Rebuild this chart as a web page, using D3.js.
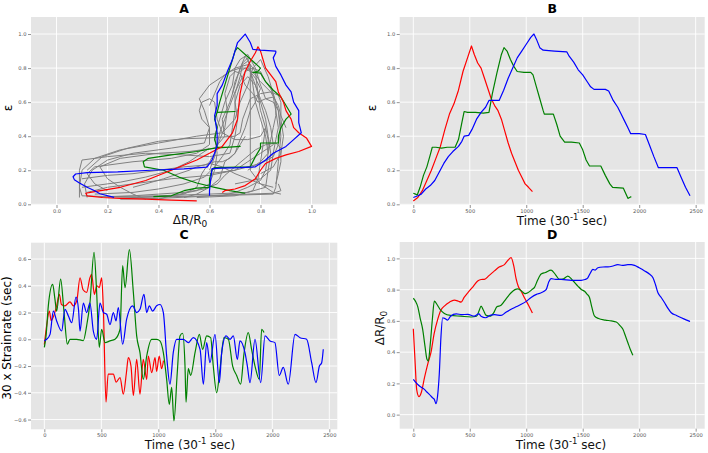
<!DOCTYPE html>
<html><head><meta charset="utf-8">
<script src="https://cdn.jsdelivr.net/npm/d3@7"></script>
<style>body{margin:0;background:#fff;} text{font-family:"DejaVu Sans",sans-serif;}</style>
</head><body><svg id="c" width="708" height="453"></svg>
<script>
// ---------- tick values ----------
const ratioTicks = [0, 0.2, 0.4, 0.6, 0.8, 1.0];
const timeTicks = [0, 500, 1000, 1500, 2000, 2500];
const rateTicks = [-0.6, -0.4, -0.2, 0, 0.2, 0.4, 0.6];

// ---------- Panel B : strain vs time ----------
const bRed = [[0,0.02],[40,0.04],[80,0.08],[120,0.14],[160,0.2],[200,0.27],[240,0.34],[280,0.44],[320,0.53],[360,0.59],[400,0.67],[440,0.78],[480,0.86],[515,0.93],[540,0.88],[570,0.83],[600,0.8],[630,0.74],[660,0.68],[690,0.62],[720,0.58],[750,0.55],[780,0.5],[810,0.43],[840,0.36],[870,0.3],[900,0.25],[930,0.2],[960,0.16],[990,0.12],[1020,0.1],[1055,0.075]];
const bGreen = [[0,0.065],[20,0.06],[35,0.055],[60,0.1],[90,0.17],[120,0.22],[150,0.29],[168,0.335],[200,0.335],[250,0.33],[300,0.335],[370,0.335],[400,0.38],[430,0.48],[450,0.545],[480,0.54],[550,0.54],[620,0.535],[670,0.54],[700,0.65],[740,0.77],[780,0.88],[803,0.92],[830,0.9],[860,0.85],[890,0.81],[920,0.78],[980,0.775],[1040,0.775],[1060,0.76],[1090,0.69],[1120,0.62],[1150,0.55],[1160,0.53],[1240,0.53],[1270,0.47],[1300,0.4],[1340,0.365],[1400,0.365],[1470,0.36],[1500,0.32],[1530,0.26],[1560,0.225],[1660,0.225],[1700,0.17],[1740,0.12],[1765,0.1],[1860,0.095],[1890,0.05],[1900,0.035],[1915,0.04],[1930,0.045]];
const bBlue = [[0,0.04],[40,0.05],[70,0.06],[110,0.09],[150,0.11],[190,0.14],[230,0.19],[270,0.24],[310,0.28],[350,0.31],[400,0.34],[430,0.37],[450,0.4],[490,0.405],[520,0.44],[560,0.5],[600,0.54],[640,0.57],[670,0.61],[760,0.61],[800,0.67],[840,0.74],[880,0.8],[920,0.86],[960,0.9],[1000,0.94],[1040,0.98],[1068,1.0],[1090,0.97],[1120,0.92],[1150,0.905],[1250,0.9],[1360,0.895],[1380,0.87],[1420,0.835],[1460,0.79],[1500,0.76],[1540,0.72],[1570,0.69],[1600,0.675],[1700,0.675],[1730,0.665],[1770,0.61],[1810,0.57],[1840,0.53],[1870,0.49],[1900,0.45],[1925,0.415],[2000,0.415],[2055,0.41],[2090,0.35],[2130,0.28],[2170,0.215],[2250,0.215],[2335,0.215],[2370,0.16],[2410,0.1],[2450,0.05]];

// ---------- Panel C : strain rate vs time ----------
const cRed = [[0,-0.04],[20,0.1],[44,0.21],[60,0.14],[80,0.17],[108,0.25],[132,0.336],[150,0.26],[180,0.25],[225,0.28],[255,0.25],[285,0.29],[313,0.46],[340,0.37],[371,0.35],[400,0.46],[415,0.485],[439,0.336],[460,0.4],[482,0.386],[503,0.46],[518,0.22],[541,-0.47],[560,-0.26],[605,-0.26],[630,-0.32],[664,-0.286],[693,-0.41],[720,-0.25],[737,-0.137],[760,-0.2],[781,-0.42],[810,-0.15],[839,-0.41],[868,-0.15],[898,-0.3],[912,-0.125],[942,-0.25],[971,-0.137],[985,-0.24],[1008,-0.125],[1029,-0.22],[1045,-0.16]];
const cGreen = [[0,-0.06],[15,0.025],[35,0.25],[73,0.41],[93,0.3],[108,0.21],[143,0.45],[172,0.21],[202,-0.037],[225,0.0],[284,0.0],[342,-0.01],[371,0.1],[400,0.27],[436,0.65],[459,0.35],[482,-0.06],[503,0.075],[532,-0.025],[576,-0.012],[620,0.0],[664,0.075],[687,0.55],[708,0.386],[746,0.67],[781,0.35],[810,0.025],[839,-0.1],[868,-0.3],[898,-0.125],[942,0.0],[985,0.0],[1014,-0.012],[1044,-0.1],[1073,-0.3],[1096,-0.486],[1117,-0.36],[1137,-0.61],[1166,-0.25],[1190,0.025],[1213,0.045],[1234,-0.2],[1243,-0.47],[1263,-0.22],[1284,-0.27],[1322,-0.1],[1360,0.037],[1389,-0.075],[1424,0.025],[1459,0.012],[1482,-0.2],[1512,-0.4],[1541,-0.22],[1576,0.012],[1614,0.0],[1652,-0.2],[1687,-0.27],[1722,-0.336],[1751,-0.11],[1789,0.05],[1818,-0.075],[1848,-0.2],[1886,-0.3],[1906,0.075],[1927,0.05]];
const cBlue = [[0,-0.012],[20,0.0],[50,0.037],[79,0.21],[108,0.137],[152,0.062],[181,0.224],[211,0.174],[240,0.124],[278,0.316],[300,0.22],[313,0.06],[342,0.27],[371,0.2],[400,0.27],[430,0.06],[459,0.0],[488,0.27],[518,0.2],[547,0.187],[576,0.11],[605,0.2],[629,0.137],[649,0.237],[687,-0.037],[722,0.15],[775,0.25],[810,0.2],[839,0.224],[874,0.336],[898,0.2],[921,0.25],[950,0.21],[985,0.25],[1015,0.26],[1044,0.2],[1073,-0.125],[1102,-0.336],[1131,-0.1],[1161,0.0],[1219,0.0],[1263,-0.025],[1307,0.012],[1366,-0.075],[1395,-0.336],[1424,-0.025],[1453,-0.175],[1497,0.037],[1535,-0.324],[1556,-0.1],[1594,0.025],[1629,0.0],[1658,0.025],[1693,-0.15],[1716,-0.012],[1760,-0.1],[1781,-0.2],[1804,-0.324],[1848,0.0],[1898,-0.324],[1936,0.025],[1980,-0.012],[2023,-0.025],[2061,-0.27],[2096,-0.21],[2140,-0.336],[2199,0.037],[2243,0.012],[2301,0.0],[2345,-0.175],[2383,-0.324],[2413,-0.2],[2433,-0.175],[2447,-0.075]];

// ---------- Panel D : resistance change vs time ----------
const dRed = [[0,0.55],[15,0.35],[30,0.16],[50,0.115],[70,0.14],[100,0.24],[130,0.33],[157,0.40],[185,0.52],[216,0.61],[245,0.67],[275,0.695],[320,0.72],[363,0.733],[400,0.726],[423,0.72],[450,0.75],[482,0.78],[530,0.82],[570,0.855],[600,0.865],[629,0.866],[670,0.89],[718,0.92],[760,0.945],[807,0.96],[840,0.99],[866,1.005],[890,0.95],[910,0.87],[930,0.82],[955,0.79],[990,0.74],[1020,0.7],[1055,0.65]];
const dGreen = [[0,0.745],[20,0.725],[40,0.69],[60,0.62],[83,0.546],[105,0.43],[121,0.354],[133,0.343],[150,0.45],[170,0.62],[186,0.727],[210,0.705],[240,0.67],[275,0.648],[330,0.635],[420,0.63],[511,0.625],[560,0.63],[585,0.67],[600,0.695],[620,0.67],[645,0.635],[680,0.63],[710,0.65],[740,0.69],[777,0.7],[820,0.74],[866,0.78],[900,0.8],[925,0.805],[960,0.79],[990,0.775],[1014,0.78],[1050,0.8],[1073,0.815],[1100,0.86],[1132,0.9],[1170,0.91],[1220,0.925],[1260,0.895],[1294,0.866],[1330,0.87],[1368,0.887],[1410,0.86],[1457,0.823],[1490,0.8],[1516,0.79],[1540,0.77],[1560,0.75],[1580,0.69],[1605,0.63],[1640,0.615],[1700,0.605],[1752,0.6],[1797,0.593],[1830,0.57],[1856,0.546],[1880,0.5],[1900,0.46],[1920,0.42],[1944,0.38]];
const dBlue = [[0,0.226],[30,0.2],[60,0.18],[98,0.162],[120,0.145],[142,0.13],[170,0.108],[186,0.098],[201,0.07],[215,0.12],[230,0.26],[245,0.5],[260,0.62],[280,0.615],[304,0.605],[330,0.63],[380,0.645],[430,0.64],[482,0.642],[540,0.63],[580,0.645],[600,0.63],[640,0.62],[680,0.635],[720,0.64],[777,0.635],[820,0.655],[866,0.674],[910,0.69],[955,0.706],[1000,0.725],[1043,0.75],[1090,0.77],[1132,0.78],[1176,0.80],[1200,0.85],[1220,0.87],[1260,0.866],[1309,0.866],[1400,0.86],[1486,0.86],[1520,0.865],[1545,0.876],[1570,0.91],[1590,0.93],[1610,0.925],[1634,0.94],[1680,0.945],[1723,0.946],[1760,0.95],[1811,0.96],[1850,0.955],[1900,0.96],[1930,0.96],[1959,0.955],[2000,0.94],[2048,0.92],[2090,0.9],[2122,0.876],[2145,0.83],[2166,0.78],[2195,0.75],[2225,0.716],[2255,0.68],[2284,0.652],[2330,0.635],[2373,0.62],[2420,0.605],[2450,0.596]];

// ---------- Panel A : strain vs resistance change (loops) ----------
const aRed = [[0.55,0.02],[0.45,0.025],[0.35,0.03],[0.25,0.035],[0.18,0.04],[0.12,0.05],[0.115,0.065],[0.15,0.075],[0.25,0.1],[0.35,0.14],[0.45,0.2],[0.55,0.26],[0.6,0.3],[0.65,0.34],[0.69,0.42],[0.71,0.5],[0.715,0.58],[0.72,0.65],[0.73,0.72],[0.74,0.78],[0.76,0.84],[0.78,0.89],[0.79,0.925],[0.8,0.9],[0.81,0.85],[0.82,0.8],[0.84,0.76],[0.86,0.72],[0.87,0.66],[0.89,0.6],[0.9,0.55],[0.92,0.5],[0.93,0.45],[0.95,0.42],[0.98,0.39],[1.0,0.34],[0.95,0.31],[0.9,0.29],[0.86,0.27],[0.82,0.24],[0.8,0.2],[0.78,0.15],[0.74,0.11],[0.7,0.09],[0.66,0.08],[0.65,0.07]];
const aGreen = [[0.74,0.065],[0.68,0.08],[0.62,0.1],[0.55,0.125],[0.48,0.16],[0.42,0.2],[0.345,0.22],[0.34,0.25],[0.36,0.27],[0.45,0.29],[0.55,0.31],[0.62,0.33],[0.72,0.34],[0.68,0.335],[0.63,0.335],[0.62,0.38],[0.63,0.45],[0.62,0.5],[0.63,0.54],[0.7,0.545],[0.63,0.54],[0.64,0.6],[0.66,0.7],[0.68,0.8],[0.7,0.9],[0.71,0.92],[0.74,0.88],[0.77,0.84],[0.8,0.8],[0.79,0.78],[0.77,0.775],[0.8,0.77],[0.82,0.72],[0.85,0.67],[0.88,0.63],[0.9,0.58],[0.92,0.53],[0.9,0.5],[0.88,0.45],[0.87,0.4],[0.87,0.36],[0.8,0.36],[0.8,0.33],[0.78,0.28],[0.76,0.22],[0.62,0.215],[0.61,0.2],[0.6,0.15],[0.6,0.1],[0.55,0.095],[0.5,0.08],[0.45,0.05],[0.38,0.045]];
const aBlue = [[0.226,0.041],[0.17,0.062],[0.15,0.08],[0.12,0.1],[0.09,0.125],[0.07,0.145],[0.065,0.162],[0.075,0.178],[0.12,0.186],[0.24,0.19],[0.37,0.2],[0.5,0.208],[0.59,0.218],[0.61,0.26],[0.62,0.3],[0.63,0.35],[0.63,0.42],[0.62,0.52],[0.63,0.58],[0.63,0.61],[0.63,0.65],[0.65,0.7],[0.67,0.78],[0.69,0.85],[0.71,0.95],[0.74,1.0],[0.76,0.95],[0.77,0.91],[0.8,0.905],[0.86,0.9],[0.86,0.89],[0.85,0.86],[0.86,0.81],[0.88,0.76],[0.9,0.7],[0.92,0.66],[0.93,0.6],[0.95,0.55],[0.95,0.48],[0.96,0.42],[0.93,0.38],[0.9,0.34],[0.85,0.3],[0.82,0.26],[0.78,0.22],[0.72,0.215],[0.65,0.213],[0.61,0.21],[0.605,0.15],[0.6,0.08],[0.6,0.05]];
const aGray = [
 [[0.1,0.05],[0.09,0.1],[0.1,0.2],[0.15,0.27],[0.25,0.32],[0.4,0.36],[0.55,0.4],[0.65,0.42],[0.7,0.5],[0.72,0.6],[0.75,0.7],[0.77,0.8],[0.8,0.85],[0.83,0.75],[0.85,0.65],[0.87,0.55],[0.88,0.4],[0.87,0.25],[0.86,0.1],[0.85,0.06],[0.6,0.05],[0.3,0.04],[0.1,0.05]],
 [[0.12,0.04],[0.11,0.12],[0.14,0.2],[0.2,0.26],[0.3,0.3],[0.45,0.33],[0.58,0.36],[0.6,0.45],[0.58,0.55],[0.56,0.62],[0.6,0.7],[0.65,0.75],[0.7,0.8],[0.75,0.82],[0.78,0.7],[0.8,0.6],[0.82,0.5],[0.83,0.4],[0.84,0.3],[0.83,0.2],[0.82,0.1],[0.75,0.07],[0.6,0.06],[0.4,0.05],[0.2,0.045]],
 [[0.35,0.03],[0.3,0.06],[0.25,0.1],[0.2,0.15],[0.17,0.22],[0.25,0.27],[0.4,0.3],[0.52,0.31],[0.62,0.33],[0.66,0.4],[0.65,0.5],[0.68,0.6],[0.7,0.7],[0.72,0.8],[0.74,0.87],[0.76,0.82],[0.76,0.6],[0.76,0.4],[0.76,0.2],[0.8,0.12],[0.85,0.07],[0.88,0.06]],
 [[0.09,0.04],[0.09,0.2],[0.1,0.26],[0.2,0.28],[0.35,0.3],[0.5,0.29],[0.6,0.28],[0.68,0.3],[0.7,0.4],[0.71,0.5],[0.7,0.6],[0.72,0.7],[0.75,0.75],[0.78,0.7],[0.8,0.62],[0.82,0.55],[0.84,0.45],[0.85,0.35],[0.8,0.3],[0.75,0.25],[0.7,0.2],[0.6,0.17],[0.45,0.15],[0.3,0.12],[0.2,0.1],[0.12,0.07]],
 [[0.3,0.04],[0.45,0.05],[0.55,0.08],[0.6,0.12],[0.62,0.2],[0.63,0.3],[0.62,0.4],[0.64,0.5],[0.66,0.6],[0.69,0.7],[0.7,0.8],[0.72,0.85],[0.75,0.88],[0.78,0.8],[0.8,0.7],[0.82,0.62],[0.85,0.6],[0.87,0.55],[0.88,0.45],[0.87,0.35],[0.85,0.28],[0.8,0.24],[0.7,0.2],[0.6,0.18]],
 [[0.15,0.06],[0.3,0.07],[0.4,0.09],[0.5,0.12],[0.58,0.16],[0.62,0.22],[0.65,0.28],[0.68,0.35],[0.69,0.45],[0.7,0.55],[0.7,0.65],[0.72,0.75],[0.73,0.82],[0.75,0.84],[0.78,0.78],[0.79,0.65],[0.8,0.55],[0.82,0.45],[0.81,0.35],[0.8,0.25],[0.79,0.15],[0.77,0.08],[0.7,0.05],[0.55,0.04]],
 [[0.2,0.08],[0.15,0.12],[0.12,0.18],[0.15,0.22],[0.3,0.25],[0.45,0.27],[0.55,0.3],[0.6,0.35],[0.6,0.45],[0.57,0.5],[0.56,0.55],[0.57,0.6],[0.6,0.62],[0.62,0.6],[0.63,0.5],[0.65,0.42],[0.7,0.38],[0.75,0.38],[0.8,0.4],[0.82,0.45],[0.83,0.38],[0.83,0.3],[0.8,0.25],[0.75,0.2]],
 [[0.4,0.03],[0.45,0.05],[0.5,0.06],[0.55,0.1],[0.57,0.18],[0.6,0.25],[0.62,0.3],[0.64,0.38],[0.66,0.45],[0.67,0.55],[0.66,0.65],[0.68,0.75],[0.7,0.78],[0.72,0.77],[0.74,0.7],[0.77,0.65],[0.79,0.6],[0.82,0.62],[0.85,0.63],[0.86,0.55],[0.87,0.45],[0.86,0.38],[0.85,0.3],[0.84,0.2],[0.8,0.15],[0.7,0.12]],
 [[0.65,0.05],[0.7,0.07],[0.75,0.1],[0.8,0.14],[0.82,0.2],[0.83,0.3],[0.82,0.4],[0.8,0.5],[0.78,0.6],[0.77,0.7],[0.76,0.8],[0.75,0.86],[0.73,0.83],[0.7,0.72],[0.69,0.65]],
 [[0.25,0.03],[0.4,0.035],[0.55,0.045],[0.65,0.055],[0.75,0.06],[0.85,0.065],[0.88,0.08],[0.87,0.12]],
 [[0.12,0.2],[0.18,0.28],[0.28,0.33],[0.4,0.37],[0.5,0.385],[0.6,0.39],[0.7,0.4],[0.72,0.42],[0.73,0.5],[0.75,0.58],[0.76,0.62],[0.8,0.65],[0.84,0.66],[0.87,0.64],[0.88,0.6],[0.88,0.5],[0.89,0.4],[0.88,0.3],[0.85,0.22],[0.8,0.18]],
 [[0.6,0.2],[0.62,0.28],[0.63,0.35],[0.64,0.42],[0.66,0.5],[0.68,0.58],[0.7,0.66],[0.72,0.72],[0.74,0.78],[0.77,0.8],[0.8,0.78],[0.82,0.72],[0.84,0.68],[0.86,0.6],[0.86,0.52],[0.85,0.45],[0.84,0.38],[0.83,0.3]],
 [[0.1,0.15],[0.2,0.17],[0.3,0.18],[0.4,0.2],[0.5,0.22],[0.58,0.23],[0.62,0.25],[0.65,0.25],[0.68,0.27],[0.7,0.3],[0.72,0.35],[0.74,0.4]],
 [[0.3,0.1],[0.35,0.12],[0.42,0.15],[0.48,0.18],[0.52,0.2],[0.55,0.22],[0.6,0.24],[0.65,0.22],[0.7,0.18],[0.75,0.15],[0.8,0.12],[0.85,0.1]],
 [[0.5,0.04],[0.55,0.06],[0.6,0.1],[0.64,0.15],[0.66,0.25],[0.7,0.3],[0.72,0.38],[0.74,0.45],[0.76,0.55],[0.78,0.6],[0.8,0.68],[0.78,0.74],[0.76,0.78],[0.74,0.8],[0.72,0.78]],
 [[0.6,0.58],[0.62,0.65],[0.64,0.72],[0.66,0.76],[0.68,0.78],[0.72,0.8],[0.75,0.8],[0.78,0.76],[0.8,0.72],[0.84,0.66],[0.87,0.58],[0.88,0.52],[0.9,0.45]],
 [[0.2,0.045],[0.3,0.05],[0.4,0.06],[0.5,0.07],[0.58,0.09],[0.63,0.12],[0.66,0.17],[0.7,0.22],[0.74,0.27],[0.78,0.32],[0.82,0.35],[0.86,0.36],[0.88,0.33],[0.88,0.25],[0.87,0.18],[0.86,0.12]],
 [[0.1,0.1],[0.15,0.11],[0.25,0.13],[0.35,0.16],[0.45,0.2],[0.52,0.25],[0.57,0.3],[0.6,0.33]]
];

const COL = {red:"#ff0000", green:"#008000", blue:"#0000ff", gray:"#808080"};
const svg = d3.select("#c");

function panel(o){
  const g = svg.append("g");
  const x = d3.scaleLinear().domain(o.xd).range([o.l, o.r]);
  const y = d3.scaleLinear().domain(o.yd).range([o.b, o.t]);
  g.append("rect").attr("x",o.l).attr("y",o.t).attr("width",o.r-o.l).attr("height",o.b-o.t).attr("fill","#e5e5e5");
  g.selectAll(".gx").data(o.xt).enter().append("line").attr("x1",d=>x(d)).attr("x2",d=>x(d)).attr("y1",o.t).attr("y2",o.b).attr("stroke","#fff").attr("stroke-width",0.9);
  g.selectAll(".gy").data(o.yt).enter().append("line").attr("y1",d=>y(d)).attr("y2",d=>y(d)).attr("x1",o.l).attr("x2",o.r).attr("stroke","#fff").attr("stroke-width",0.9);
  const xa = g.append("g").attr("transform",`translate(0,${o.b})`).call(d3.axisBottom(x).tickValues(o.xt).tickFormat(o.xf).tickSize(3).tickPadding(1.5));
  const ya = g.append("g").attr("transform",`translate(${o.l},0)`).call(d3.axisLeft(y).tickValues(o.yt).tickFormat(o.yf).tickSize(3).tickPadding(1.5));
  [xa,ya].forEach(a=>{a.select(".domain").remove(); a.selectAll("line").attr("stroke","#666").attr("stroke-width",0.7); a.selectAll("text").attr("fill","#555").attr("font-size","5.2px").attr("font-family","DejaVu Sans");});
  const clip = "clip"+Math.round(o.l)+"_"+Math.round(o.t);
  g.append("clipPath").attr("id",clip).append("rect").attr("x",o.l).attr("y",o.t).attr("width",o.r-o.l).attr("height",o.b-o.t);
  const lg = g.append("g").attr("clip-path",`url(#${clip})`);
  const line = d3.line().x(d=>x(d[0])).y(d=>y(d[1])).curve(o.curve||d3.curveLinear);
  o.series.forEach(s=>{
    lg.append("path").attr("d",line(s.data)).attr("fill","none").attr("stroke",s.c).attr("stroke-width",s.w||1.2).attr("stroke-linejoin","round");
  });
  g.append("text").attr("x",(o.l+o.r)/2).attr("y",o.ty).attr("text-anchor","middle").attr("font-weight","bold").attr("font-size","12.5px").text(o.title);
  return {g,x,y};
}

function timeLabel(g, cx, cy){
  const t = g.append("text").attr("x",cx).attr("y",cy).attr("text-anchor","middle").attr("font-size","12px").attr("fill","#111");
  t.append("tspan").text("Time (30");
  t.append("tspan").attr("dy",-4.5).attr("font-size","8.5px").text("-1");
  t.append("tspan").attr("dy",4.5).text(" sec)");
}
function ratioLabel(g, cx, cy, rot){
  const t = g.append("text").attr("text-anchor","middle").attr("font-size","12px").attr("fill","#111")
    .attr("transform",`translate(${cx},${cy})`+(rot?" rotate(-90)":""));
  t.append("tspan").text("\u0394R/R");
  t.append("tspan").attr("dy",3).attr("font-size","9px").text("0");
}

const fmt1 = d3.format(".1f"), fmtD = d3.format("d");
const ratioDom = [-0.1, 1.1];

// Panel A
const pA = panel({l:31,r:337,t:17,b:205,ty:12.7,xd:ratioDom,yd:[-0.004,1.1],xt:ratioTicks,yt:ratioTicks,xf:fmt1,yf:fmt1,title:"A",
  series:aGray.map(d=>({data:d,c:COL.gray,w:1})).concat([{data:aGreen,c:COL.green},{data:aRed,c:COL.red},{data:aBlue,c:COL.blue}])});
ratioLabel(pA.g, 190, 224, false);
pA.g.append("text").attr("transform","translate(11.5,108) rotate(-90)").attr("text-anchor","middle").attr("font-size","12px").text("\u03b5");

// Panel B
const pB = panel({l:399.7,r:704.7,t:17,b:205,ty:12.7,xd:[-120.4,2580],yd:[-0.004,1.1],xt:timeTicks,yt:ratioTicks,xf:fmtD,yf:fmt1,title:"B",
  series:[{data:bRed,c:COL.red},{data:bGreen,c:COL.green},{data:bBlue,c:COL.blue}]});
timeLabel(pB.g, 562, 224.5);
pB.g.append("text").attr("transform","translate(376,108) rotate(-90)").attr("text-anchor","middle").attr("font-size","12px").text("\u03b5");

// Panel C
const pC = panel({l:31,r:337.3,t:242.7,b:429.3,ty:239.3,xd:[-117,2570],yd:[-0.673,0.722],xt:timeTicks,yt:rateTicks,xf:fmtD,yf:fmt1,title:"C",curve:d3.curveMonotoneX,
  series:[{data:cRed,c:COL.red},{data:cGreen,c:COL.green},{data:cBlue,c:COL.blue}]});
timeLabel(pC.g, 190, 448.5);
pC.g.append("text").attr("transform","translate(11,338) rotate(-90)").attr("text-anchor","middle").attr("font-size","12px").text("30 x Strainrate (sec)");

// Panel D
const pD = panel({l:399.7,r:704.7,t:242,b:428.7,ty:239.3,xd:[-120.4,2580],yd:[-0.09,1.105],xt:timeTicks,yt:ratioTicks,xf:fmtD,yf:fmt1,title:"D",curve:d3.curveMonotoneX,
  series:[{data:dRed,c:COL.red},{data:dGreen,c:COL.green},{data:dBlue,c:COL.blue}]});
timeLabel(pD.g, 561, 448.5);
ratioLabel(pD.g, 384, 328, true);
</script></body></html>
